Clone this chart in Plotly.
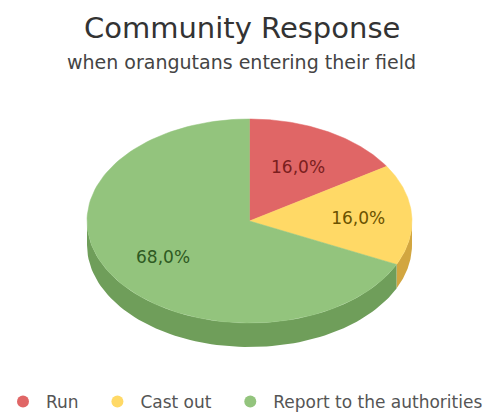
import numpy as np
import plotly.graph_objects as go

# ---- data ----
categories = ["Run", "Cast out", "Report to the authorities"]
values = [16.0, 16.0, 68.0]
label_texts = ["16,0%", "16,0%", "68,0%"]
title_text = "Community Response"
subtitle_text = "when orangutans entering their field"

# ---- style ----
top_colors = ["#E06666", "#FFD966", "#93C47D"]
side_colors = ["#B84A4A", "#D2A640", "#6F9E5A"]
text_colors = ["#7A1E1E", "#6B5200", "#2E5A22"]
label_r = [0.62, 0.67, 0.63]
label_dy = 3.5
legend_pad = ["\u00a0\u00a0", "\u00a0\u00a0", ""]
FONT = "DejaVu Sans, Liberation Sans, Arial"

W, H = 483, 414
cx, cy = 249.5, 221.0   # ellipse centre (pixels)
a, b = 162.5, 102.0     # semi-axes
depth = 24.0

def pt(t_deg, dy=0.0):
    t = np.radians(t_deg)
    return cx + a * np.sin(t), cy - b * np.cos(t) + dy

total = sum(values)
bounds = np.cumsum([0] + values) / total * 360.0

fig = go.Figure()

# side walls (front visible half: 90..270 deg clockwise from top)
for i in range(len(values)):
    s, e = bounds[i], bounds[i + 1]
    lo, hi = max(s, 90.0), min(e, 270.0)
    if hi <= lo:
        continue
    ts = np.linspace(lo, hi, 80)
    xs_top, ys_top = pt(ts)
    xs_bot, ys_bot = pt(ts[::-1], depth)
    xs = np.concatenate([xs_top, xs_bot, xs_top[:1]])
    ys = np.concatenate([ys_top, ys_bot, ys_top[:1]])
    fig.add_trace(go.Scatter(x=xs, y=ys, mode="lines", fill="toself",
                             fillcolor=side_colors[i], line=dict(width=0, color=side_colors[i]),
                             hoverinfo="skip", showlegend=False))

# top face wedges
for i in range(len(values)):
    s, e = bounds[i], bounds[i + 1]
    ts = np.linspace(s, e, 120)
    xs_arc, ys_arc = pt(ts)
    xs = np.concatenate([[cx], xs_arc, [cx]])
    ys = np.concatenate([[cy], ys_arc, [cy]])
    fig.add_trace(go.Scatter(x=xs, y=ys, mode="lines", fill="toself",
                             fillcolor=top_colors[i], line=dict(width=0.5, color=top_colors[i]),
                             name=categories[i], hoverinfo="name", showlegend=False))

# labels
for i in range(len(values)):
    mid = (bounds[i] + bounds[i + 1]) / 2
    t = np.radians(mid)
    lx = cx + a * label_r[i] * np.sin(t)
    ly = cy - b * label_r[i] * np.cos(t) + label_dy
    fig.add_trace(go.Scatter(x=[lx], y=[ly], mode="text", text=[label_texts[i]],
                             textfont=dict(family=FONT, size=17, color=text_colors[i]),
                             hoverinfo="skip", showlegend=False))

# legend entries
for i in range(len(values)):
    fig.add_trace(go.Scatter(x=[None], y=[None], mode="markers",
                             name=categories[i] + legend_pad[i],
                             marker=dict(symbol="circle", size=15, color=top_colors[i]),
                             showlegend=True))

fig.update_layout(
    width=W, height=H,
    margin=dict(l=0, r=0, t=0, b=0, autoexpand=False),
    paper_bgcolor="white", plot_bgcolor="white",
    xaxis=dict(range=[0, W], visible=False, fixedrange=True),
    yaxis=dict(range=[H, 0], visible=False, fixedrange=True),
    showlegend=True,
    legend=dict(orientation="h", x=0.0, xanchor="left", y=1 - 402 / H, yanchor="middle",
                font=dict(family=FONT, size=17, color="#555555"),
                itemsizing="constant", itemwidth=36, traceorder="normal",
                bgcolor="rgba(0,0,0,0)"),
    annotations=[
        dict(text=title_text, x=0.5, y=1 - 28 / H, xref="paper", yref="paper",
             showarrow=False, xanchor="center", yanchor="middle",
             font=dict(family=FONT, size=29, color="#333333")),
        dict(text=subtitle_text, x=0.5, y=1 - 62 / H,
             xref="paper", yref="paper", showarrow=False, xanchor="center", yanchor="middle",
             font=dict(family=FONT, size=19, color="#444444")),
    ],
)

fig.write_html("out.html", config={"displayModeBar": False},
               post_script="document.body.style.margin='0';")
